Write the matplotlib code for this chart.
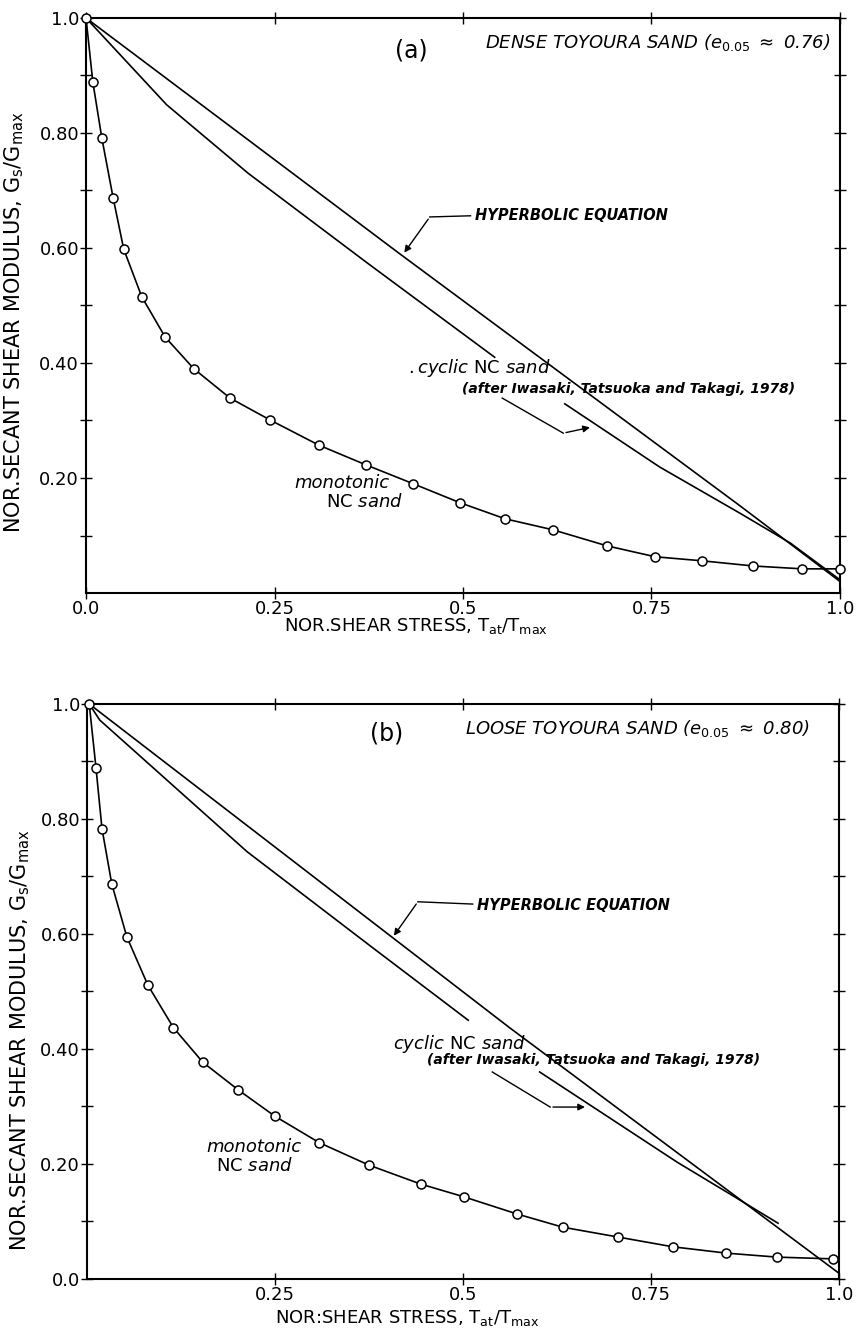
import matplotlib
matplotlib.use('Agg')
import matplotlib.pyplot as plt

plt.rcParams['font.family'] = ['DejaVu Sans']
plt.rcParams['mathtext.fontset'] = 'dejavusans'

# (a) dense Toyoura sand
mono_a_x = [0.0, 0.009, 0.021, 0.036, 0.050, 0.074, 0.105, 0.143, 0.191, 0.244, 0.309,
            0.371, 0.434, 0.496, 0.556, 0.619, 0.691, 0.755, 0.817, 0.885, 0.950, 1.0]
mono_a_y = [1.0, 0.889, 0.791, 0.687, 0.598, 0.515, 0.445, 0.390, 0.339, 0.301, 0.257,
            0.223, 0.190, 0.157, 0.129, 0.110, 0.082, 0.063, 0.056, 0.047, 0.042, 0.042]
cyc_a1_x = [0.0, 0.107, 0.215, 0.373, 0.542]
cyc_a1_y = [1.0, 0.849, 0.730, 0.574, 0.410]
cyc_a2_x = [0.635, 0.761, 0.867, 0.934, 1.0]
cyc_a2_y = [0.329, 0.219, 0.139, 0.087, 0.023]
hyp_a_x = [0.0, 0.416, 0.867, 1.0]
hyp_a_y = [1.0, 0.590, 0.152, 0.020]

# (b) loose Toyoura sand
mono_b_x = [0.003, 0.012, 0.020, 0.033, 0.053, 0.081, 0.115, 0.154, 0.201, 0.250, 0.309,
            0.375, 0.444, 0.501, 0.572, 0.633, 0.706, 0.779, 0.850, 0.918, 0.992]
mono_b_y = [1.0, 0.889, 0.783, 0.687, 0.595, 0.511, 0.437, 0.377, 0.329, 0.283, 0.237,
            0.198, 0.165, 0.143, 0.113, 0.090, 0.073, 0.056, 0.045, 0.038, 0.035]
cyc_b1_x = [0.003, 0.017, 0.213, 0.380, 0.507]
cyc_b1_y = [1.0, 0.972, 0.743, 0.576, 0.450]
cyc_b2_x = [0.602, 0.785, 0.851, 0.919]
cyc_b2_y = [0.360, 0.203, 0.151, 0.097]
hyp_b_x = [0.003, 0.562, 1.0]
hyp_b_y = [1.0, 0.437, 0.010]

xticks_a = [0.0, 0.25, 0.5, 0.75, 1.0]
xticklabels_a = ['0.0', '0.25', '0.5', '0.75', '1.0']
yticks_a = [0.2, 0.4, 0.6, 0.8, 1.0]
yticklabels_a = ['0.20', '0.40', '0.60', '0.80', '1.0']
xticks_b = [0.25, 0.5, 0.75, 1.0]
xticklabels_b = ['0.25', '0.5', '0.75', '1.0']
yticks_b = [0.0, 0.2, 0.4, 0.6, 0.8, 1.0]
yticklabels_b = ['0.0', '0.20', '0.40', '0.60', '0.80', '1.0']

ylab = r'NOR.SECANT SHEAR MODULUS, $\mathrm{G_s/G_{max}}$'

fig = plt.figure(figsize=(8.61, 13.32), dpi=100)
ax1 = fig.add_axes([0.0999, 0.5548, 0.8757, 0.4317])
ax2 = fig.add_axes([0.1010, 0.0398, 0.8734, 0.4317])

lw = 1.2


def style_axes(ax, xt, xtl, yt, ytl):
    ax.set_xlim(0, 1)
    ax.set_ylim(0, 1)
    for s in ax.spines.values():
        s.set_linewidth(1.5)
    ax.set_xticks(xt)
    ax.set_xticklabels(xtl)
    ax.set_yticks(yt)
    ax.set_yticklabels(ytl)
    ax.set_yticks([0.1, 0.3, 0.5, 0.7, 0.9], minor=True)
    ax.tick_params(which='both', direction='inout', length=8, width=1,
                   top=True, right=True, labelsize=13, pad=1)


def draw(ax, mx, my, c1x, c1y, c2x, c2y, hx, hy):
    ax.plot(hx, hy, color='black', lw=lw, clip_on=False)
    ax.plot(c1x, c1y, color='black', lw=lw, clip_on=False)
    ax.plot(c2x, c2y, color='black', lw=lw, clip_on=False)
    ax.plot(mx, my, color='black', lw=lw, marker='o', ms=6.5, mfc='white',
            mec='black', mew=1.1, clip_on=False, zorder=5)


# ---- panel (a)
style_axes(ax1, xticks_a, xticklabels_a, yticks_a, yticklabels_a)
draw(ax1, mono_a_x, mono_a_y, cyc_a1_x, cyc_a1_y, cyc_a2_x, cyc_a2_y, hyp_a_x, hyp_a_y)
ax1.text(0.432, 0.944, '(a)', fontsize=17, ha='center', va='center')
ax1.text(0.987, 0.957, r'DENSE TOYOURA SAND ($e_{0.05}$ $\approx$ 0.76)', fontsize=13,
         style='italic', ha='right', va='center')
ax1.text(0.516, 0.656, 'HYPERBOLIC EQUATION', fontsize=10.5, style='italic',
         weight='bold', ha='left', va='center')
ax1.plot([0.510, 0.456], [0.656, 0.654], color='black', lw=1)
ax1.annotate('', xy=(0.420, 0.588), xytext=(0.456, 0.654),
             arrowprops=dict(arrowstyle='-|>', color='black', lw=1, mutation_scale=10))
ax1.text(0.427, 0.391, r'$.\mathit{cyclic}\ \mathrm{NC}\ \mathit{sand}$', fontsize=13,
         ha='left', va='center')
ax1.text(0.499, 0.355, '(after Iwasaki, Tatsuoka and Takagi, 1978)', fontsize=10,
         style='italic', weight='bold', ha='left', va='center')
ax1.plot([0.552, 0.633], [0.339, 0.278], color='black', lw=1)
ax1.annotate('', xy=(0.672, 0.289), xytext=(0.633, 0.278),
             arrowprops=dict(arrowstyle='-|>', color='black', lw=1, mutation_scale=10))
ax1.text(0.340, 0.191, 'monotonic', fontsize=13, style='italic', ha='center', va='center')
ax1.text(0.370, 0.158, r'$\mathrm{NC}\ \mathit{sand}$', fontsize=13, ha='center', va='center')
ax1.set_xlabel(r'NOR.SHEAR STRESS, $\mathrm{T_{at}/T_{max}}$', fontsize=13)
ax1.xaxis.set_label_coords(0.438, -0.040)
ax1.set_ylabel(ylab, fontsize=15)
ax1.yaxis.set_label_coords(-0.080, 0.471)

# ---- panel (b)
style_axes(ax2, xticks_b, xticklabels_b, yticks_b, yticklabels_b)
draw(ax2, mono_b_x, mono_b_y, cyc_b1_x, cyc_b1_y, cyc_b2_x, cyc_b2_y, hyp_b_x, hyp_b_y)
ax2.text(0.399, 0.948, '(b)', fontsize=17, ha='center', va='center')
ax2.text(0.961, 0.958, r'LOOSE TOYOURA SAND ($e_{0.05}$ $\approx$ 0.80)', fontsize=13,
         style='italic', ha='right', va='center')
ax2.text(0.519, 0.650, 'HYPERBOLIC EQUATION', fontsize=10.5, style='italic',
         weight='bold', ha='left', va='center')
ax2.plot([0.513, 0.440], [0.652, 0.656], color='black', lw=1)
ax2.annotate('', xy=(0.406, 0.593), xytext=(0.440, 0.656),
             arrowprops=dict(arrowstyle='-|>', color='black', lw=1, mutation_scale=10))
ax2.text(0.407, 0.409, r'$\mathit{cyclic}\ \mathrm{NC}\ \mathit{sand}$', fontsize=13,
         ha='left', va='center')
ax2.text(0.452, 0.381, '(after Iwasaki, Tatsuoka and Takagi, 1978)', fontsize=10,
         style='italic', weight='bold', ha='left', va='center')
ax2.plot([0.539, 0.616], [0.360, 0.299], color='black', lw=1)
ax2.annotate('', xy=(0.666, 0.299), xytext=(0.616, 0.299),
             arrowprops=dict(arrowstyle='-|>', color='black', lw=1, mutation_scale=10))
ax2.text(0.222, 0.230, 'monotonic', fontsize=13, style='italic', ha='center', va='center')
ax2.text(0.223, 0.197, r'$\mathrm{NC}\ \mathit{sand}$', fontsize=13, ha='center', va='center')
ax2.set_xlabel(r'NOR:SHEAR STRESS, $\mathrm{T_{at}/T_{max}}$', fontsize=13)
ax2.xaxis.set_label_coords(0.426, -0.050)
ax2.set_ylabel(ylab, fontsize=15)
ax2.yaxis.set_label_coords(-0.073, 0.416)

fig.savefig('out.png', dpi=100)
